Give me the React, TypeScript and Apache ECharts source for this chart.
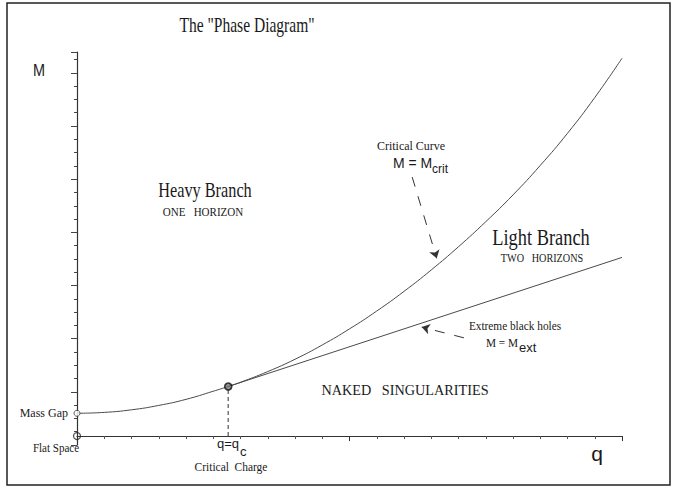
import React, { useEffect, useRef } from "react";
import * as echarts from "echarts";

// Critical curve M = M_crit(q)
const critQ = [0, 1, 2, 3, 4, 5, 5.55, 6, 7, 8, 9, 10, 11, 12, 13, 14, 15, 16, 17, 18, 19, 20];
const critM = [2.55, 2.65, 2.94, 3.43, 4.11, 5.02, 5.55, 6.02, 7.22, 8.6, 10.2, 12.0, 14.0, 16.2, 18.6, 21.2, 24.0, 27.0, 30.3, 33.9, 37.9, 42.3];
// Extreme black holes M = M_ext(q)
const extQ = [5.55, 20];
const extM = [5.55, 20];
// Critical charge
const qCritical = 5.55;
const mCritical = 5.55;
const massGap = 2.55;
// annotation arrows [from, to]
const critArrow = [[12.3, 29.0], [13.2, 19.9]];
const extArrow = [[14.2, 11.0], [12.65, 12.2]];
// tick ruler of the M axis (tick units)
const tickRulerMax = 29.57;

const SERIF = "'Liberation Serif', 'Times New Roman', serif";
const SANS = "'Liberation Sans', Arial, sans-serif";

function T(text: string, x: number, y: number, size: number, family: string, scaleX = 1, align = "center") {
  return {
    type: "text",
    x,
    y,
    scaleX,
    silent: true,
    style: {
      text,
      fontSize: size,
      fontFamily: family,
      fill: "#1a1a1a",
      align,
      verticalAlign: "middle",
      textAlign: align,
      textVerticalAlign: "middle",
    },
  };
}

export default function App() {
  const ref = useRef<HTMLDivElement>(null);
  useEffect(() => {
    document.body.style.margin = "0";
    const chart = echarts.init(ref.current!, null, { renderer: "svg" });
    const lineColor = "#4a4a4a";
    const tickAxis = (interval: number, len: number) => ({
      type: "value",
      position: "left",
      offset: 0,
      min: 0,
      max: tickRulerMax,
      interval,
      axisLine: { show: false },
      axisTick: { show: true, length: len, lineStyle: { color: "#444", width: 1 } },
      axisLabel: { show: false },
      splitLine: { show: false },
    });
    chart.setOption({
      animation: false,
      backgroundColor: "#fff",
      grid: { left: 77, right: 56, top: 52, bottom: 43 },
      xAxis: {
        type: "value",
        min: 0,
        max: 20,
        interval: 10,
        axisLine: { onZero: true, onZeroAxisIndex: 0, lineStyle: { color: "#333", width: 1.2 } },
        axisTick: { show: true, length: 5, lineStyle: { color: "#333" } },
        minorTick: { show: true, splitNumber: 10, length: 3, lineStyle: { color: "#555" } },
        axisLabel: { show: false },
        splitLine: { show: false },
      },
      yAxis: [
        {
          type: "value",
          min: -1,
          max: 43,
          axisLine: { show: true, onZero: false, lineStyle: { color: "#333", width: 1.2 } },
          axisTick: { show: false },
          axisLabel: { show: false },
          splitLine: { show: false },
        },
        tickAxis(1, 3),
        tickAxis(4, 6),
      ],
      series: [
        {
          type: "line",
          data: critQ.map((q, i) => [q, critM[i]]),
          smooth: true,
          symbol: "none",
          lineStyle: { color: lineColor, width: 1 },
          z: 3,
        },
        {
          type: "line",
          data: extQ.map((q, i) => [q, extM[i]]),
          symbol: "none",
          lineStyle: { color: lineColor, width: 1 },
          z: 3,
        },
        {
          type: "line",
          data: [[qCritical, 0], [qCritical, mCritical]],
          symbol: "none",
          lineStyle: { color: "#777", width: 1.5, type: [4, 3] },
          z: 2,
        },
        {
          type: "lines",
          coordinateSystem: "cartesian2d",
          symbol: ["none", "arrow"],
          symbolSize: 8,
          lineStyle: { color: "#333", width: 1, type: [10, 10], opacity: 1 },
          data: [{ coords: critArrow }, { coords: extArrow }],
          z: 4,
        },
        {
          type: "scatter",
          z: 5,
          data: [
            { value: [qCritical, mCritical], symbolSize: 7, itemStyle: { color: "#777", borderColor: "#111", borderWidth: 1.6 } },
            { value: [0, massGap], symbolSize: 6, itemStyle: { color: "#fff", borderColor: "#333", borderWidth: 1 } },
            { value: [0, 0], symbolSize: 7, itemStyle: { color: "rgba(255,255,255,0)", borderColor: "#222", borderWidth: 1.2 } },
          ],
        },
      ],
      graphic: [
        { type: "rect", silent: true, shape: { x: 7, y: 3, width: 663, height: 482 }, style: { fill: "none", stroke: "#222", lineWidth: 1.5 } },
        T('The "Phase Diagram"', 247, 25, 21, SERIF, 0.74),
        T("M", 39, 70, 17, SANS, 0.85),
        T("q", 597, 453, 21, SANS, 1),
        T("Heavy Branch", 205, 190, 22, SERIF, 0.74),
        T("ONE   HORIZON", 203, 212, 13, SERIF, 0.85),
        T("Light Branch", 541, 237, 23, SERIF, 0.8),
        T("TWO   HORIZONS", 542, 258, 12, SERIF, 0.85),
        T("Critical Curve", 411, 146, 13, SERIF, 0.92),
        T("M = M", 393, 163, 14, SANS, 1, "left"),
        T("crit", 432, 169, 12, SANS, 1, "left"),
        T("Extreme black holes", 515, 326, 13, SERIF, 0.87),
        T("M = M", 486, 343, 13, SERIF, 0.87, "left"),
        T("ext", 519, 347, 13, SANS, 1, "left"),
        T("NAKED   SINGULARITIES", 405, 390, 15, SERIF, 0.95),
        T("Mass Gap", 68, 413, 12, SERIF, 1, "right"),
        T("Flat Space", 56, 448, 12, SERIF, 0.92),
        T("q=q", 217, 443, 13, SANS, 1, "left"),
        T("c", 240, 451, 13, SANS, 1, "left"),
        T("Critical  Charge", 231, 467, 13, SERIF, 0.88),
      ],
    });
    return () => chart.dispose();
  }, []);
  return <div ref={ref} style={{ width: 678, height: 488 }} />;
}
